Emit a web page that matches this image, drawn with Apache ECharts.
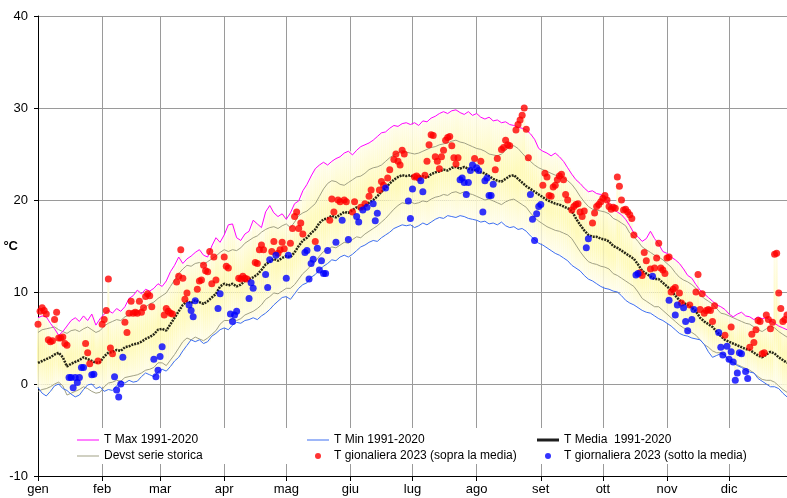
<!DOCTYPE html>
<html><head><meta charset="utf-8">
<script src="https://cdn.jsdelivr.net/npm/echarts@6/dist/echarts.min.js"></script>
<style>html,body{margin:0;padding:0;background:#fff}#c{width:787px;height:498px}</style>
</head><body><div id="c"></div>
<script>
const monthLabels = ['gen','feb','mar','apr','mag','giu','lug','ago','set','ott','nov','dic'];
const monthStartDays = [0,31,59,90,120,151,181,212,243,273,304,334];
const yTicks = [-10,0,10,20,30,40];
const sampleStep = 2; // climatology read every 2 days (day = index * 2)

const tMax = [
7.2,7.4,7.3,6.6,6.0,5.3,5.7,6.3,6.9,7.2,
6.8,7.4,6.9,7.6,6.4,7.1,7.6,8.0,7.7,8.2,
7.9,8.4,9.3,9.6,10.2,9.8,10.3,10.1,10.4,10.9,
10.6,11.2,12.2,12.9,13.8,13.1,13.6,13.9,14.3,14.6,
14.0,13.8,15.0,15.9,15.4,16.2,17.3,17.4,15.9,15.6,
16.3,16.6,17.8,17.4,17.0,18.7,19.4,18.6,18.2,18.5,
17.9,18.6,19.6,19.9,21.0,21.7,22.6,23.4,23.8,24.1,
23.8,24.2,24.5,24.7,25.1,25.3,24.9,25.4,25.8,26.0,
26.2,26.5,26.9,27.3,27.4,27.8,28.1,28.0,28.3,28.4,
28.2,28.4,28.1,28.6,28.5,28.9,29.1,29.4,29.6,29.4,
29.7,29.8,29.5,29.3,29.6,29.2,29.4,29.0,28.8,29.0,
28.6,28.7,28.4,28.5,28.2,28.1,27.9,27.8,27.6,27.2,
26.6,25.6,25.3,25.1,24.8,25.1,24.7,24.2,23.5,22.8,
22.2,21.8,21.3,20.9,21.0,20.7,20.6,20.3,19.5,19.0,
18.7,18.4,17.9,17.2,16.4,16.0,15.5,15.8,16.6,15.8,
15.2,14.4,14.2,13.8,13.5,13.1,12.5,11.8,11.5,10.8,
10.2,9.8,9.4,9.0,8.6,8.4,8.1,7.6,7.3,7.6,
7.8,7.4,7.3,7.0,7.3,7.1,7.2,6.9,6.6,6.3,
6.1,5.9];

const tMin = [
-0.4,-1.0,-1.3,-0.8,-0.2,0.0,-0.5,-0.7,-1.1,-1.4,
-1.2,-0.6,-0.1,0.0,-0.5,-0.3,-0.8,-0.6,-0.7,-0.2,
0.3,0.1,0.4,0.2,0.3,0.8,1.2,1.0,0.8,1.3,
1.6,1.4,1.9,2.5,2.9,3.6,4.2,4.8,4.6,4.8,
4.4,4.6,5.2,5.5,5.9,6.1,5.9,6.4,6.7,6.6,
6.9,7.0,7.2,7.0,7.4,7.7,8.1,8.6,9.0,9.4,
9.5,9.2,9.8,10.4,10.8,11.0,11.6,11.9,12.4,12.8,
13.1,13.5,13.4,13.8,14.0,13.8,14.1,14.5,14.9,15.1,
15.4,15.6,15.5,15.9,16.2,16.5,16.9,17.1,17.3,17.2,
17.3,17.0,17.2,17.5,17.3,17.6,17.9,18.1,18.0,18.3,
18.2,18.1,18.3,18.2,18.0,17.9,17.8,17.6,17.7,17.4,
17.5,17.3,17.6,17.2,17.0,17.1,16.8,16.9,16.6,16.1,
15.7,15.3,15.1,14.8,14.5,14.2,14.0,13.7,13.4,12.9,
12.6,12.3,11.8,11.4,11.2,10.9,10.6,10.4,10.3,10.1,
10.0,9.6,9.1,8.8,8.6,8.3,8.0,7.8,7.7,7.4,
7.1,6.9,6.6,6.3,5.9,5.5,5.3,5.2,5.0,4.9,
4.8,4.3,3.5,2.9,3.1,3.3,3.2,2.4,2.3,2.0,
1.8,1.5,1.3,1.2,0.6,0.3,0.0,-0.3,-0.3,-0.5,
-1.0,-1.4];

const tMean = [
2.3,2.5,2.7,2.9,3.2,3.4,2.9,1.9,2.2,2.4,
2.6,2.9,2.7,2.5,2.3,2.4,3.0,3.4,3.5,3.7,
3.6,4.0,4.1,4.3,4.4,4.6,4.9,5.1,5.4,5.9,
6.0,5.8,6.5,7.2,7.9,8.6,9.0,8.8,9.1,8.9,
8.7,9.0,9.4,9.8,10.6,10.9,10.7,10.9,10.6,10.8,
11.2,11.4,11.6,11.9,12.4,13.0,13.3,13.6,13.4,13.7,
13.9,13.8,14.3,15.0,15.6,15.9,16.4,16.8,17.5,17.9,
18.0,18.3,18.1,18.4,18.7,18.6,18.9,19.2,19.0,19.4,
19.7,20.0,20.4,20.9,21.3,21.8,22.2,22.5,22.7,22.6,
22.7,22.4,22.5,22.6,22.4,22.8,23.0,23.1,23.3,23.2,
23.5,23.6,23.4,23.6,23.4,23.3,23.2,23.0,22.9,22.6,
22.3,22.1,22.0,22.3,22.6,22.7,22.3,21.9,21.5,21.2,
20.9,20.6,20.3,20.0,19.8,19.6,19.5,19.3,19.1,18.8,
18.0,17.3,16.7,16.2,16.0,16.0,15.8,15.7,15.5,15.0,
14.8,14.5,14.2,13.9,13.6,13.0,12.3,12.0,11.7,11.4,
11.4,11.0,10.6,10.2,9.6,9.1,8.8,8.6,8.3,7.9,
7.2,6.8,6.5,6.2,5.7,5.2,4.8,4.6,4.4,4.2,
4.0,3.8,3.7,3.4,3.1,2.9,3.2,3.5,3.3,2.9,
2.6,2.3];

const devUpper = [
5.6,5.9,6.0,6.1,6.2,5.9,5.7,5.5,5.8,5.9,5.7,6.0,6.2,5.9,5.6,5.8,
6.3,6.6,6.8,7.0,6.9,7.3,7.5,7.6,7.8,8.1,8.4,8.7,8.9,9.3,
9.6,9.9,10.6,11.3,12.0,12.5,12.9,12.8,13.1,13.2,13.0,13.3,13.6,13.9,14.3,14.6,
14.4,14.6,14.5,14.8,15.3,15.6,15.9,16.1,16.5,16.8,17.0,17.1,16.9,17.2,17.4,
17.0,17.6,18.3,18.6,18.8,19.2,19.6,20.4,21.2,21.8,22.1,22.0,21.7,21.6,21.9,
22.2,22.5,22.6,22.9,23.3,23.5,23.6,23.8,24.2,24.6,24.9,25.1,25.4,25.2,25.1,
25.0,25.1,25.3,25.5,25.7,25.8,26.0,26.1,26.2,26.4,26.5,26.3,26.2,26.0,25.8,
25.6,25.5,25.3,25.0,24.9,24.8,25.0,25.4,25.8,25.9,25.6,25.1,24.6,24.2,23.8,
23.5,23.3,23.1,22.9,22.7,22.6,22.4,22.1,21.7,21.1,20.4,19.8,19.3,19.0,18.9,
18.8,18.7,18.5,18.0,17.8,17.5,17.2,16.4,16.0,15.5,14.9,14.6,14.3,14.0,13.8,
13.5,13.1,12.7,12.1,11.6,11.3,11.1,10.8,10.4,9.7,9.3,9.0,8.7,8.2,7.7,
7.6,7.4,7.2,7.0,6.8,6.6,6.5,6.2,5.9,5.7,6.0,6.3,6.1,5.7,5.4,5.1];

const devLower = [
-0.8,-0.6,-0.5,-0.3,0.0,0.2,-0.2,-1.2,-1.0,-0.8,-0.6,-0.3,-0.5,-0.8,-1.0,-0.9,
-0.3,0.1,0.2,0.4,0.3,0.7,0.8,0.9,1.0,1.2,1.5,1.6,1.8,2.3,
2.3,2.0,2.6,3.2,3.9,4.6,5.0,4.8,5.1,4.9,4.7,5.0,5.4,5.8,6.5,6.9,
6.9,7.1,6.9,7.1,7.5,7.7,7.9,8.2,8.6,9.2,9.5,9.9,9.8,10.1,10.4,
10.4,10.8,11.4,12.0,12.4,12.9,13.3,13.9,14.4,14.6,14.9,14.8,15.1,15.4,15.3,
15.7,16.0,15.9,16.3,16.6,16.9,17.2,17.6,18.0,18.5,19.0,19.4,19.7,19.6,19.8,
19.6,19.7,19.9,19.8,20.1,20.3,20.4,20.6,20.5,20.8,20.9,20.7,20.9,20.7,20.6,
20.4,20.2,20.0,20.1,19.9,19.7,19.5,19.8,20.0,20.1,19.8,19.5,19.2,18.6,18.1,
17.7,17.4,17.1,16.9,16.7,16.6,16.4,16.2,15.8,15.1,14.4,13.8,13.3,13.1,13.0,
12.8,12.7,12.5,12.0,11.8,11.5,11.2,10.9,10.6,10.0,9.3,9.0,8.7,8.4,8.4,
8.0,7.6,7.2,6.8,6.4,6.1,5.9,5.6,5.3,4.8,4.3,4.0,3.6,3.4,3.4,
3.1,2.6,2.4,2.1,1.9,1.7,1.5,1.2,0.8,0.5,0.4,0.4,0.2,-0.2,-0.6,-0.9];

// 2023 daily values: [day of year (0 = 1 Jan), °C]
const hot2023 = [
[0,6.5],[1,7.9],[2,8.3],[3,8.0],[4,7.6],[5,4.8],[6,4.6],[7,4.7],[8,7.0],[9,7.8],[10,5.0],[11,5.0],[12,5.1],[13,4.4],[14,4.2],
[23,4.4],[24,3.4],[25,2.2],[29,2.5],
[31,6.5],[32,7.0],[33,8.0],[34,11.4],[35,3.9],[36,3.3],
[42,6.7],[43,5.6],[44,7.7],[45,9.0],[46,7.7],[47,7.8],[48,7.7],[49,9.0],[50,7.8],[51,8.3],[52,9.5],[53,9.8],[54,9.6],[55,8.4],
[61,7.5],[62,8.2],[63,7.9],[64,7.7],[65,7.6],[67,11.1],[68,11.7],[69,14.6],[70,11.5],[71,9.2],[72,9.9],
[77,10.3],[78,11.2],[79,11.3],[80,12.9],[81,12.3],[82,12.2],[83,14.4],[84,10.9],[85,13.8],[86,11.3],
[90,13.8],[91,12.8],[92,12.6],
[97,11.5],[98,11.4],[99,11.7],[100,11.5],[101,11.4],
[105,13.2],[106,13.1],[107,14.6],[108,15.1],[109,14.6],
[113,14.4],[114,15.5],[116,14.2],[117,14.6],[118,15.4],[119,14.7],
[122,15.3],[123,16.9],[124,18.2],[125,18.7],[126,16.9],[127,17.5],[128,16.3],
[134,15.5],[141,17.8],[142,20.1],[143,18.7],[145,20.0],[146,19.8],[148,20.0],[149,19.8],
[152,18.7],[153,19.8],[156,19.2],[158,19.6],[160,20.4],[161,21.1],
[165,21.1],[166,22.0],[167,21.6],[169,22.4],[170,23.3],[172,24.4],[173,25.0],[174,24.2],[175,23.8],[176,25.4],[177,25.0],
[182,22.5],[183,22.6],[184,22.4],[187,22.7],[188,24.2],[189,26.0],[190,27.1],[191,27.0],[192,24.7],[193,24.2],[194,23.4],[195,24.7],[196,25.4],[197,26.5],[198,26.8],[199,26.9],[200,25.9],[201,24.6],[202,23.9],[203,24.6],
[211,24.5],[214,24.2],
[221,23.3],[222,24.5],[224,25.5],[225,25.7],[226,26.5],[227,26.0],[228,25.9],[231,27.6],[232,28.2],[233,28.7],[234,29.2],[235,30.0],[236,27.7],[237,24.6],
[244,21.6],[245,22.9],[246,22.5],[247,20.5],[248,20.4],[249,21.4],[250,21.6],[251,22.2],[252,22.6],[253,22.8],[254,22.2],[255,20.6],[256,20.0],
[258,18.9],[259,19.3],[260,19.5],[261,19.6],[262,18.7],[263,18.2],[264,18.8],
[268,17.5],[269,18.6],[270,19.3],[271,19.5],[272,19.8],[273,20.2],[274,20.5],[275,20.0],[276,19.3],[277,19.0],[278,19.2],[279,19.1],[280,22.5],[281,21.5],[282,20.0],[283,18.9],[284,19.0],[285,18.7],[286,18.4],[287,18.0],[288,16.2],
[291,12.1],[292,11.8],[293,14.3],[294,13.4],[296,12.5],[298,12.6],[299,13.7],[300,15.3],[301,12.6],[302,12.4],[303,12.0],[304,13.7],[305,13.8],[306,10.0],[307,10.3],[308,10.5],[310,9.9],[311,8.8],
[315,8.6],[318,10.0],[319,11.9],[320,8.1],[321,9.8],[322,7.7],[323,8.0],[324,8.1],[325,8.0],[326,6.8],[327,8.5],
[332,5.3],[335,6.2],
[344,4.0],[345,5.4],[346,4.5],[347,5.9],[348,6.9],[349,6.8],[350,3.3],[351,3.4],[352,7.5],[353,7.0],[354,6.0],[355,6.7],[356,14.1],[357,14.2],[358,9.9],[359,8.2],[360,6.8],[361,7.0],[362,7.5]
];
const cold2023 = [
[15,0.7],[16,0.7],[17,-0.4],[18,0.7],[19,0.15],[20,0.7],[21,1.8],[22,1.8],[26,1.0],[27,1.05],
[37,0.8],[38,-0.65],[39,-1.4],[40,0.0],[41,2.9],
[56,2.7],[57,0.8],[58,1.5],[59,3.0],[60,4.05],
[73,8.6],[74,8.0],[75,7.3],[76,9.05],
[87,8.2],[88,9.8],
[93,7.6],[94,6.8],[95,7.5],[96,7.9],
[102,9.3],[103,11.0],[104,10.4],
[110,11.9],[111,10.5],[112,13.5],[115,14.0],
[120,11.5],[121,14.0],
[129,14.3],[130,14.5],[131,11.4],[132,13.1],[133,13.55],[135,14.75],[136,12.4],[137,13.4],[138,12.0],[139,12.0],[140,14.5],
[144,15.4],[147,17.8],[150,15.7],[154,18.2],[155,17.6],[157,18.9],[159,19.2],[162,19.6],[163,17.75],[164,18.55],[168,21.3],
[179,19.9],[180,18.0],[181,21.2],[185,22.1],[186,20.9],
[204,22.2],[205,22.4],[206,21.9],[207,20.6],[208,21.9],[209,23.2],[210,23.8],[212,23.5],[213,23.2],
[215,18.7],[216,22.1],[217,22.4],[218,20.5],[219,20.5],[220,21.7],
[238,20.6],[239,17.9],[240,15.6],[241,18.5],[242,19.3],[243,19.5],
[265,14.8],[266,15.8],
[289,11.85],[290,12.0],[297,11.7],
[305,9.1],[308,7.5],[309,8.6],[312,8.3],[313,6.8],[314,5.8],[316,7.0],[317,8.1],
[329,5.6],[330,4.0],[331,3.15],[333,4.1],[334,2.7],[335,3.5],[336,2.4],[337,0.4],[338,1.2],[339,3.4],[340,3.3],[342,1.35],[343,0.6]
];

// ---- build ----
const N = tMax.length;
const lastDay = (N - 1) * sampleStep;
const toXY = arr => arr.map((v, i) => [i * sampleStep, v]);

const obsByDay = {};
hot2023.concat(cold2023).forEach(([d, v]) => { (obsByDay[d] = obsByDay[d] || []).push(v); });
const bandData = [];
for (let d = 0; d <= lastDay; d++) {
  const i = Math.min(N - 1, Math.floor(d / sampleStep));
  let lo = tMin[i], hi = tMax[i];
  (obsByDay[d] || []).forEach(v => { if (v > hi) hi = v; if (v < lo) lo = v; });
  bandData.push([d, lo, hi]);
}

const FONT = 'Liberation Sans, Arial, sans-serif';
const chart = echarts.init(document.getElementById('c'), null, {renderer: 'canvas'});

const THIN = 'path://M0,0H22V1H0Z';
const THICK = 'path://M0,0H22V3H0Z';
const legendBase = {
  orient: 'vertical', top: 433, itemWidth: 22, itemHeight: 6, itemGap: 2, padding: 0,
  selectedMode: false, symbolKeepAspect: true,
  textStyle: {fontSize: 12, color: '#000', lineHeight: 14, fontFamily: FONT}
};
const option = {
  animation: false,
  textStyle: {fontFamily: FONT},
  grid: {left: 38, right: 0, top: 16, bottom: 22, containLabel: false, outerBoundsMode: 'none'},
  graphic: [{
    type: 'rect', z: 1, silent: true,
    shape: {x: 72, y: 428, width: 715, height: 36},
    style: {fill: '#ffffff'}
  }],
  xAxis: {
    type: 'value', min: 0, max: 362,
    axisLine: {show: true, onZero: false, lineStyle: {color: '#000', width: 1}},
    axisTick: {show: true, length: 5, customValues: monthStartDays, lineStyle: {color: '#000'}},
    axisLabel: {
      show: true, customValues: monthStartDays, margin: 7, fontSize: 13, color: '#000', fontFamily: FONT,
      formatter: v => monthLabels[monthStartDays.indexOf(v)] || ''
    },
    splitLine: {show: true, lineStyle: {color: '#9a9a9a', width: 1}}
  },
  yAxis: {
    type: 'value', min: yTicks[0], max: yTicks[yTicks.length - 1], interval: 10,
    name: '°C', nameLocation: 'middle', nameGap: 20, nameRotate: 0, nameMoveOverlap: false,
    nameTextStyle: {fontWeight: 'bold', fontSize: 13, color: '#000', fontFamily: FONT},
    axisLine: {show: true, lineStyle: {color: '#000', width: 1}},
    axisTick: {show: true, length: 4, lineStyle: {color: '#000'}},
    axisLabel: {fontSize: 13, color: '#000', margin: 10, fontFamily: FONT},
    splitLine: {show: true, lineStyle: {color: '#9a9a9a', width: 1}}
  },
  legend: [
    Object.assign({}, legendBase, {left: 77, data: [
      {name: 'T Max 1991-2020', icon: THIN},
      {name: 'Devst serie storica', icon: THIN}
    ]}),
    Object.assign({}, legendBase, {left: 307, data: [
      {name: 'T Min 1991-2020', icon: THIN},
      {name: 'T gionaliera 2023 (sopra la media)', icon: 'circle'}
    ]}),
    Object.assign({}, legendBase, {left: 537, data: [
      {name: 'T Media  1991-2020', icon: THICK},
      {name: 'T giornaliera 2023 (sotto la media)', icon: 'circle'}
    ]})
  ],
  series: [
    {
      type: 'custom', name: 'band', z: 2, silent: true,
      data: bandData, encode: {x: 0, y: [1, 2]},
      renderItem: (params, api) => {
        const d = api.value(0), lo = api.value(1), hi = api.value(2);
        const p1 = api.coord([d, hi]), p2 = api.coord([d, lo]);
        const w = api.size([1, 0])[0];
        const fill = new echarts.graphic.LinearGradient(0, 0, 0, 1, [
          {offset: 0, color: '#fffdea'},
          {offset: 0.45, color: '#fffab4'},
          {offset: 0.6, color: '#fffab4'},
          {offset: 1, color: '#fffdea'}
        ]);
        return {
          type: 'rect',
          shape: {x: p1[0] - w / 2, y: p1[1], width: w, height: p2[1] - p1[1]},
          style: {fill: fill, opacity: 0.9}
        };
      }
    },
    {
      type: 'line', name: 'T Media  1991-2020', data: toXY(tMean), z: 3,
      showSymbol: false, symbol: 'none', silent: true,
      lineStyle: {color: '#262616', width: 2.5, type: [2, 1]}, itemStyle: {color: '#1e1e1e'}
    },
    {
      type: 'line', name: 'Devst serie storica', data: toXY(devUpper), z: 4,
      showSymbol: false, symbol: 'none', silent: true,
      lineStyle: {color: '#a0a084', width: 1}, itemStyle: {color: '#a0a084'}
    },
    {
      type: 'line', name: 'Devst serie storica', data: toXY(devLower), z: 4,
      showSymbol: false, symbol: 'none', silent: true,
      lineStyle: {color: '#a0a084', width: 1}, itemStyle: {color: '#a0a084'}
    },
    {
      type: 'line', name: 'T Max 1991-2020', data: toXY(tMax), z: 4,
      showSymbol: false, symbol: 'none', silent: true,
      lineStyle: {color: '#ff00ff', width: 1}, itemStyle: {color: '#ff00ff'}
    },
    {
      type: 'line', name: 'T Min 1991-2020', data: toXY(tMin), z: 4,
      showSymbol: false, symbol: 'none', silent: true,
      lineStyle: {color: '#3d6ef0', width: 1}, itemStyle: {color: '#3d6ef0'}
    },
    {
      type: 'scatter', name: 'T gionaliera 2023 (sopra la media)', data: hot2023, z: 5,
      symbol: 'circle', symbolSize: 7, silent: true, itemStyle: {color: '#ff0000'}
    },
    {
      type: 'scatter', name: 'T giornaliera 2023 (sotto la media)', data: cold2023, z: 5,
      symbol: 'circle', symbolSize: 7, silent: true, itemStyle: {color: '#0000ff'}
    }
  ]
};
chart.setOption(option);
</script>
</body></html>
